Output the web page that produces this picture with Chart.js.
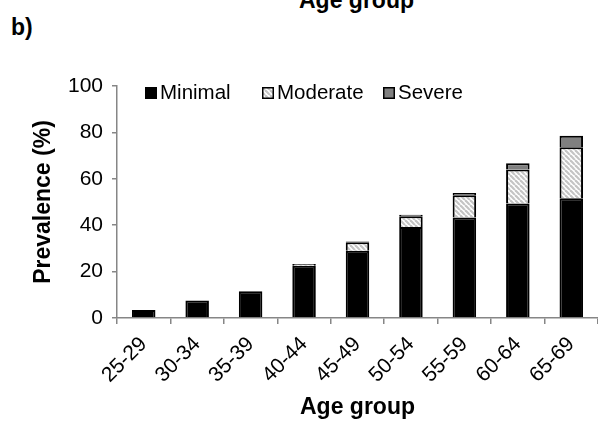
<!DOCTYPE html>
<html>
<head>
<meta charset="utf-8">
<script src="https://cdn.jsdelivr.net/npm/chart.js@4.4.0/dist/chart.umd.min.js"></script>
<style>
  body { margin: 0; background: #fff; }
  #wrap { position: relative; width: 598px; height: 425px; overflow: hidden; font-family: "Liberation Sans", Arial, sans-serif; }
  #chart { position: absolute; left: 0; top: 0; }
  .lbl { position: absolute; font-weight: bold; line-height: 1; white-space: nowrap; }
</style>
</head>
<body>
<div id="wrap">
  <div class="lbl" style="left:299px; top:-11px; font-size:23px;">Age group</div>
  <div class="lbl" style="left:11px; top:16px; font-size:23px;">b)</div>
  <canvas id="chart" width="598" height="425"></canvas>
</div>
<script>
// data
const ageGroups = ["25-29", "30-34", "35-39", "40-44", "45-49", "50-54", "55-59", "60-64", "65-69"];
const minimal  = [3.5, 7.5, 11.5, 22.5, 29, 39.2, 43.3, 49.3, 51.6];
const moderate = [0, 0, 0, 0.8, 3.6, 4.7, 9.6, 14.7, 22];
const severe   = [0, 0, 0, 0, 0.4, 0.6, 1, 2.7, 5];
const yTicks = [0, 20, 40, 60, 80, 100];

const FONT = "'Liberation Sans', Arial, sans-serif";
const AXIS_GREY = "#868686";

// diagonal hatch for "Moderate"
function makeHatch() {
    let c = document.createElement("canvas");
    c.width = 5; c.height = 5;
    let g = c.getContext("2d");
    g.fillStyle = "#ffffff";
    g.fillRect(0, 0, 5, 5);
    g.strokeStyle = "#c4c4c4";
    g.lineWidth = 2.2;
    for (let k = -5; k <= 5; k += 5) {
        g.beginPath();
        g.moveTo(k, 0);
        g.lineTo(k + 5, 5);
        g.stroke();
    }
    return g.createPattern(c, "repeat");
}
const hatch = makeHatch();

// legend drawn inside the plot area, top left
const legendX = [145, 262, 383];
const innerLegend = {
    id: "innerLegend",
    afterDraw(chart) {
        let ctx = chart.ctx;
        ctx.save();
        ctx.font = "20.5px " + FONT;
        ctx.textBaseline = "middle";
        let y = 93, box = 12;
        chart.data.datasets.forEach((ds, i) => {
            let x = legendX[i];
            ctx.fillStyle = ds.backgroundColor;
            ctx.fillRect(x, y - box / 2, box, box);
            ctx.strokeStyle = "#000";
            ctx.lineWidth = 1.5;
            ctx.strokeRect(x + 0.75, y - box / 2 + 0.75, box - 1.5, box - 1.5);
            ctx.fillStyle = "#000";
            ctx.fillText(ds.label, x + box + 3, y);
        });
        ctx.restore();
    }
};

new Chart(document.getElementById("chart").getContext("2d"), {
    type: "bar",
    data: {
        labels: ageGroups,
        datasets: [
            { label: "Minimal", data: minimal, backgroundColor: "#000000" },
            { label: "Moderate", data: moderate, backgroundColor: hatch },
            { label: "Severe", data: severe, backgroundColor: "#808080" }
        ]
    },
    options: {
        responsive: false,
        animation: false,
        layout: { padding: { left: 30, top: 86, right: 0, bottom: 0 } },
        datasets: {
            bar: {
                barPercentage: 0.44,
                categoryPercentage: 1,
                borderColor: "#000000",
                borderWidth: 2
            }
        },
        plugins: {
            legend: { display: false },
            tooltip: { enabled: false }
        },
        scales: {
            x: {
                stacked: true,
                grid: { drawOnChartArea: false, color: AXIS_GREY, tickLength: 6, lineWidth: 1.5 },
                border: { color: AXIS_GREY, width: 1.5 },
                ticks: {
                    color: "#000",
                    font: { family: FONT, size: 21 },
                    minRotation: 45,
                    maxRotation: 45,
                    padding: 8
                },
                title: {
                    display: true,
                    text: "Age group",
                    color: "#000",
                    font: { family: FONT, size: 23, weight: "bold" },
                    padding: { top: 0, bottom: 4 }
                },
                afterFit(scale) { scale.height = 107; }
            },
            y: {
                stacked: true,
                min: 0,
                max: 100,
                afterBuildTicks(scale) { scale.ticks = yTicks.map(v => ({ value: v })); },
                grid: { drawOnChartArea: false, color: AXIS_GREY, tickLength: 5, lineWidth: 1.5 },
                border: { color: AXIS_GREY, width: 1.5 },
                ticks: {
                    color: "#000",
                    font: { family: FONT, size: 21 },
                    padding: 9
                },
                title: {
                    display: true,
                    text: "Prevalence (%)",
                    color: "#000",
                    font: { family: FONT, size: 23, weight: "bold" },
                    padding: 0
                },
                afterFit(scale) { scale.width = 87; }
            }
        }
    },
    plugins: [innerLegend]
});
</script>
</body>
</html>
